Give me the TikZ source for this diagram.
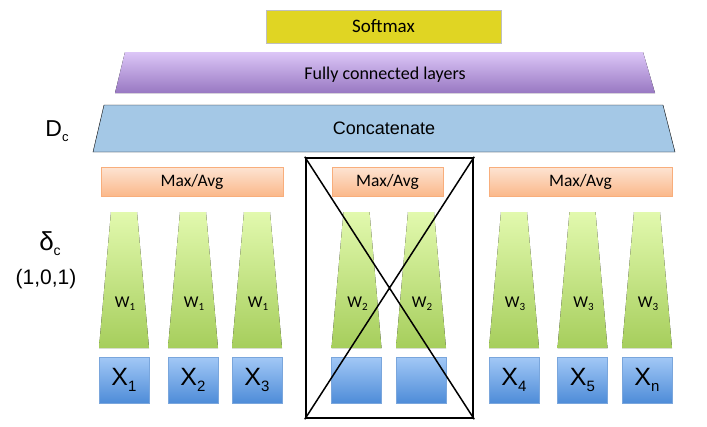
\documentclass[tikz,border=0pt]{standalone}
\usepackage{fontspec}
\setmainfont{Liberation Sans}
\newfontfamily\calibri{Carlito}
\newcommand{\lowsub}[3]{\raisebox{-#1pt}{\fontsize{#2}{#2}\selectfont #3}}
\definecolor{softmaxfill}{HTML}{E0D523}
\definecolor{fctop}{HTML}{DCC6F7}
\definecolor{fcbot}{HTML}{9878C2}
\definecolor{concatfill}{HTML}{A4C8E6}
\definecolor{pooltop}{HTML}{FDE4D3}
\definecolor{poolbot}{HTML}{FBB88A}
\definecolor{poolline}{HTML}{F8AE7C}
\definecolor{greentop}{HTML}{E2F9AE}
\definecolor{greenbot}{HTML}{A6CE5C}
\definecolor{bluetop}{HTML}{A2C8F6}
\definecolor{bluebot}{HTML}{4E8CD8}
\definecolor{blueline}{HTML}{7AA6DC}
\begin{document}
\begin{tikzpicture}[x=1pt,y=-1pt,
  cal/.style={font=\calibri\fontsize{#1}{#1}\selectfont},
  ar/.style={font=\fontsize{#1}{#1}\selectfont},
  pool/.style={draw=poolline,top color=pooltop,bottom color=poolbot,minimum height=29pt,inner sep=0pt,cal=17.5},
  xbox/.style={draw=blueline,top color=bluetop,bottom color=bluebot,minimum width=50pt,minimum height=46pt,inner sep=0pt}]
\useasboundingbox (0,0) rectangle (707,426);
\node[draw=black!25,fill=softmaxfill,minimum width=235pt,minimum height=33pt,inner sep=0pt,cal=19] (softmax) at (383.5,26.5) {Softmax};
\fill[top color=fctop,bottom color=fcbot] (125,52) -- (643,52) -- (655,93) -- (115,93) -- cycle;
\node[cal=18] (fc) at (385,75) {Fully connected layers};
\draw[fill=concatfill] (104,105) -- (663,105) -- (675,152) -- (93,152) -- cycle;
\node[ar=18] (concat) at (384,128) {Concatenate};
\node[ar=23] (dc) at (57,131) {D\lowsub{5}{13}{c}};
\node[ar=26] (delta) at (50,244) {δ\lowsub{5}{14}{c}};
\node[ar=21] (code) at (46,279) {(1,0,1)};
\node[pool,minimum width=182pt] (pool1) at (192,181.5) {Max/Avg};
\node[pool,minimum width=111pt] (pool2) at (387.5,181.5) {Max/Avg};
\node[pool,minimum width=183pt] (pool3) at (580.5,181.5) {Max/Avg};
\foreach \cx/\g [count=\i] in {124/1,193/1,257/1,356.5/2,421/2,514/3,582.5/3,647/3}{
\fill[top color=greentop,bottom color=greenbot] (\cx-13,212) -- (\cx+13,212) -- (\cx+25,348) -- (\cx-25,348) -- cycle;
\node[cal=16.5] (w\i) at (\cx+1,304) {W\lowsub{3}{11}{\g}};
\node[xbox] (x\i) at (\cx,380) {};
}
\foreach \i/\s in {1/1,2/2,3/3,6/4,7/5,8/n}
\node[ar=25] (xl\i) at (x\i.center) {X\lowsub{6}{15}{\s}};
\node[draw,line width=2.5pt,minimum width=167pt,minimum height=260pt,inner sep=0pt] (cross) at (389.5,288) {};
\draw[line width=1.5pt] (cross.north west) -- (cross.south east) (cross.north east) -- (cross.south west);
\end{tikzpicture}
\end{document}
